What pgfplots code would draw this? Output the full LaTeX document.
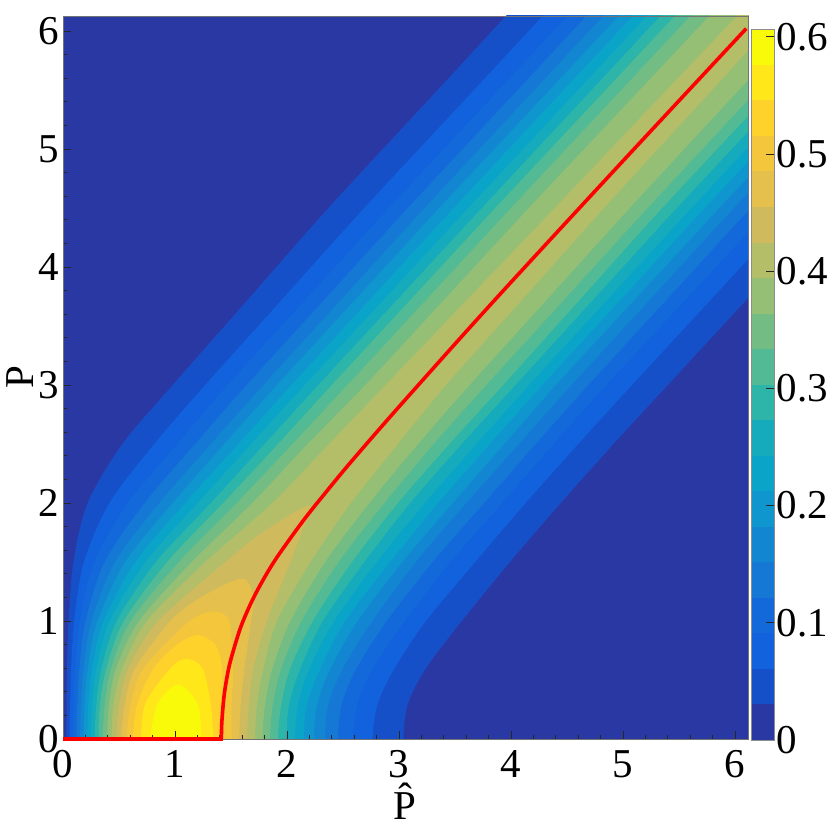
\documentclass[border=0pt]{standalone}
\usepackage{pgfplots}
\pgfplotsset{compat=1.18}
\usepackage{fontspec}
\setmainfont{Liberation Serif}
\definecolor{c0}{HTML}{2A38A4}
\definecolor{c1}{HTML}{1650C9}
\definecolor{c2}{HTML}{1162DC}
\definecolor{c3}{HTML}{1369D9}
\definecolor{c4}{HTML}{1578D5}
\definecolor{c5}{HTML}{1386D1}
\definecolor{c6}{HTML}{0F96CE}
\definecolor{c7}{HTML}{0AA4C8}
\definecolor{c8}{HTML}{15ABBD}
\definecolor{c9}{HTML}{2CB5A8}
\definecolor{c10}{HTML}{52BA95}
\definecolor{c11}{HTML}{73BC84}
\definecolor{c12}{HTML}{96BF76}
\definecolor{c13}{HTML}{B4BD68}
\definecolor{c14}{HTML}{CFBB5E}
\definecolor{c15}{HTML}{E5C04D}
\definecolor{c16}{HTML}{F4C63B}
\definecolor{c17}{HTML}{FED12B}
\definecolor{c18}{HTML}{FFE71A}
\definecolor{c19}{HTML}{F9FA0A}
\newcommand{\bigf}{\fontsize{41}{44}\selectfont}
\begin{document}
\begin{tikzpicture}[x=1pt,y=1pt]
\path[use as bounding box] (0,0) rectangle (830,827);
\begin{axis}[
  at={(63pt,88pt)},anchor=south west,
  scale only axis,width=685pt,height=723pt,
  xmin=0,xmax=6.116,ymin=0,ymax=6.127,
  axis background/.style={fill=c0},
  axis on top,
  xtick={0,1,2,3,4,5,6},ytick={0,1,2,3,4,5,6},
  minor x tick num=4,minor y tick num=4,
  xtick pos=bottom,ytick pos=left,
  tick align=inside,
  major tick length=8pt,minor tick length=4pt,
  tick style={black!85,line width=0.8pt},
  axis line style={black!55,line width=0.9pt},
  tick label style={font=\bigf,/pgf/number format/assume math mode=true},
  xticklabel style={yshift=-8pt},
  yticklabel style={xshift=0pt},
  xlabel={\^{P}},ylabel={P},
  label style={font=\bigf},
  xlabel style={at={(axis description cs:0.499,0)},anchor=north,yshift=-40pt},
  ylabel style={at={(axis description cs:0,0.5)},anchor=south,yshift=26pt},
]
% level 0.0303
\addplot[fill=c1,draw=none,smooth] coordinates {(.032,-.3)(.0304,0)(.032,.3)(.036,.6)(.05,1)(.093,1.5)(.22,2)(.53,2.5)(.98,3)(1.675,3.75)(2.37,4.5)(3.345,5.5)(4.32,6.5)(5.32,7.5)(9.84,7.5)(8.84,6.5)(7.85,5.5)(6.86,4.5)(6.13,3.75)(5.40,3)(4.914,2.5)(4.444,2)(3.99,1.5)(3.56,1)(3.24,.6)(3.08,.3)(3.04,0)(3.08,-.3)};
% level 0.0607
\addplot[fill=c2,draw=none,smooth] coordinates {(.064,-.3)(.061,0)(.064,.3)(.073,.6)(.10,1)(.187,1.5)(.415,2)(.815,2.5)(1.27,3)(1.98,3.75)(2.69,4.5)(3.67,5.5)(4.65,6.5)(5.65,7.5)(9.51,7.5)(8.51,6.5)(7.525,5.5)(6.54,4.5)(5.81,3.75)(5.08,3)(4.60,2.5)(4.13,2)(3.68,1.5)(3.24,1)(2.96,.6)(2.81,.3)(2.765,0)(2.81,-.3)};
% level 0.0910
\addplot[fill=c3,draw=none,smooth] coordinates {(.096,-.3)(.0915,0)(.096,.3)(.11,.6)(.151,1)(.28,1.5)(.58,2)(1.02,2.5)(1.47,3)(2.19,3.75)(2.91,4.5)(3.89,5.5)(4.87,6.5)(5.87,7.5)(9.29,7.5)(8.29,6.5)(7.305,5.5)(6.32,4.5)(5.585,3.75)(4.85,3)(4.38,2.5)(3.92,2)(3.46,1.5)(3.05,1)(2.77,.6)(2.63,.3)(2.59,0)(2.63,-.3)};
% level 0.1213
\addplot[fill=c4,draw=none,smooth] coordinates {(.128,-.3)(.1225,0)(.128,.3)(.147,.6)(.202,1)(.372,1.5)(.73,2)(1.18,2.5)(1.64,3)(2.36,3.75)(3.08,4.5)(4.06,5.5)(5.04,6.5)(6.04,7.5)(9.12,7.5)(8.12,6.5)(7.13,5.5)(6.14,4.5)(5.415,3.75)(4.69,3)(4.22,2.5)(3.76,2)(3.30,1.5)(2.89,1)(2.62,.6)(2.49,.3)(2.455,0)(2.49,-.3)};
% level 0.1516
\addplot[fill=c5,draw=none,smooth] coordinates {(.161,-.3)(.1535,0)(.161,.3)(.184,.6)(.255,1)(.465,1.5)(.86,2)(1.32,2.5)(1.79,3)(2.51,3.75)(3.23,4.5)(4.21,5.5)(5.19,6.5)(6.19,7.5)(8.97,7.5)(7.97,6.5)(6.98,5.5)(5.99,4.5)(5.265,3.75)(4.54,3)(4.07,2.5)(3.60,2)(3.15,1.5)(2.76,1)(2.50,.6)(2.37,.3)(2.34,0)(2.37,-.3)};
% level 0.1820
\addplot[fill=c6,draw=none,smooth] coordinates {(.194,-.3)(.185,0)(.194,.3)(.222,.6)(.308,1)(.555,1.5)(.98,2)(1.44,2.5)(1.91,3)(2.635,3.75)(3.36,4.5)(4.345,5.5)(5.33,6.5)(6.33,7.5)(8.83,7.5)(7.83,6.5)(6.845,5.5)(5.86,4.5)(5.13,3.75)(4.40,3)(3.94,2.5)(3.48,2)(3.03,1.5)(2.63,1)(2.39,.6)(2.27,.3)(2.24,0)(2.27,-.3)};
% level 0.2123
\addplot[fill=c7,draw=none,smooth] coordinates {(.227,-.3)(.217,0)(.227,.3)(.26,.6)(.363,1)(.645,1.5)(1.09,2)(1.565,2.5)(2.04,3)(2.765,3.75)(3.49,4.5)(4.47,5.5)(5.455,6.5)(6.455,7.5)(8.70,7.5)(7.70,6.5)(6.715,5.5)(5.73,4.5)(5.005,3.75)(4.28,3)(3.81,2.5)(3.35,2)(2.92,1.5)(2.52,1)(2.30,.6)(2.18,.3)(2.15,0)(2.18,-.3)};
% level 0.2426
\addplot[fill=c8,draw=none,smooth] coordinates {(.262,-.3)(.25,0)(.262,.3)(.30,.6)(.418,1)(.738,1.5)(1.205,2)(1.68,2.5)(2.16,3)(2.89,3.75)(3.62,4.5)(4.60,5.5)(5.58,6.5)(6.58,7.5)(8.57,7.5)(7.57,6.5)(6.59,5.5)(5.61,4.5)(4.885,3.75)(4.16,3)(3.69,2.5)(3.23,2)(2.80,1.5)(2.42,1)(2.20,.6)(2.10,.3)(2.07,0)(2.10,-.3)};
% level 0.2729
\addplot[fill=c9,draw=none,smooth] coordinates {(.298,-.3)(.283,0)(.298,.3)(.345,.6)(.48,1)(.83,1.5)(1.32,2)(1.80,2.5)(2.28,3)(3.01,3.75)(3.74,4.5)(4.72,5.5)(5.70,6.5)(6.70,7.5)(8.45,7.5)(7.45,6.5)(6.465,5.5)(5.48,4.5)(4.76,3.75)(4.04,3)(3.56,2.5)(3.10,2)(2.69,1.5)(2.32,1)(2.12,.6)(2.02,.3)(1.995,0)(2.02,-.3)};
% level 0.3033
\addplot[fill=c10,draw=none,smooth] coordinates {(.331,-.3)(.317,0)(.331,.3)(.387,.6)(.543,1)(.93,1.5)(1.43,2)(1.92,2.5)(2.40,3)(3.13,3.75)(3.86,4.5)(4.845,5.5)(5.83,6.5)(6.83,7.5)(8.32,7.5)(7.32,6.5)(6.335,5.5)(5.35,4.5)(4.64,3.75)(3.93,3)(3.45,2.5)(2.99,2)(2.58,1.5)(2.23,1)(2.03,.6)(1.95,.3)(1.92,0)(1.95,-.3)};
% level 0.3336
\addplot[fill=c11,draw=none,smooth] coordinates {(.374,-.3)(.355,0)(.374,.3)(.43,.6)(.605,1)(1.035,1.5)(1.55,2)(2.05,2.5)(2.54,3)(3.27,3.75)(4.0,4.5)(4.985,5.5)(5.97,6.5)(6.97,7.5)(8.18,7.5)(7.18,6.5)(6.2,5.5)(5.22,4.5)(4.50,3.75)(3.78,3)(3.31,2.5)(2.87,2)(2.46,1.5)(2.13,1)(1.95,.6)(1.875,.3)(1.85,0)(1.875,-.3)};
% level 0.3639
\addplot[fill=c12,draw=none,smooth] coordinates {(.412,-.3)(.395,0)(.412,.3)(.475,.6)(.68,1)(1.15,1.5)(1.69,2)(2.185,2.5)(2.70,3)(3.43,3.75)(4.16,4.5)(5.15,5.5)(6.14,6.5)(7.14,7.5)(8.01,7.5)(7.01,6.5)(6.035,5.5)(5.06,4.5)(4.345,3.75)(3.63,3)(3.17,2.5)(2.735,2)(2.34,1.5)(2.03,1)(1.87,.6)(1.805,.3)(1.783,0)(1.805,-.3)};
% level 0.3942
\addplot[fill=c13,draw=none,smooth] coordinates {(.452,-.3)(.433,0)(.452,.3)(.53,.6)(.75,1)(1.27,1.5)(1.87,2)(2.375,2.5)(2.88,3)(3.635,3.75)(4.39,4.5)(5.39,5.5)(6.39,6.5)(7.39,7.5)(7.76,7.5)(6.76,6.5)(5.795,5.5)(4.83,4.5)(4.125,3.75)(3.42,3)(2.99,2.5)(2.57,2)(2.21,1.5)(1.91,1)(1.79,.6)(1.733,.3)(1.715,0)(1.733,-.3)};
% level 0.4245
\addplot[fill=c14,draw=none,smooth] coordinates {(.503,-.3)(.475,0)(.503,.3)(.585,.6)(.85,1)(1.45,1.5)(1.78,1.75)(2.2,1.98)(2.13,1.75)(2.03,1.5)(1.82,1)(1.70,.6)(1.66,.3)(1.645,0)(1.66,-.3)};
% level 0.4549
\addplot[fill=c15,draw=none,smooth] coordinates {(.553,-.3)(.52,0)(.553,.3)(.645,.6)(.96,1)(1.23,1.2)(1.6,1.36)(1.70,1.2)(1.68,1)(1.62,.6)(1.587,.3)(1.575,0)(1.587,-.3)};
% level 0.4852
\addplot[fill=c16,draw=none,smooth] coordinates {(.605,-.3)(.57,0)(.605,.3)(.72,.6)(1.13,1)(1.35,1.08)(1.485,1)(1.52,.6)(1.506,.3)(1.505,0)(1.506,-.3)};
% level 0.5155
\addplot[fill=c17,draw=none,smooth] coordinates {(.665,-.3)(.625,0)(.665,.3)(.81,.6)(1.02,.8)(1.2,.88)(1.36,.8)(1.42,.6)(1.425,.3)(1.43,0)(1.425,-.3)};
% level 0.5458
\addplot[fill=c18,draw=none,smooth] coordinates {(.735,-.3)(.70,0)(.735,.3)(.96,.6)(1.1,.68)(1.245,.6)(1.318,.3)(1.34,0)(1.318,-.3)};
% level 0.5762
\addplot[fill=c19,draw=none,smooth] coordinates {(.845,-.3)(.785,0)(.845,.3)(1.03,.46)(1.20,.3)(1.235,0)(1.20,-.3)};
\end{axis}
% ridge line, not clipped at the frame
\begin{axis}[
  at={(63pt,88pt)},anchor=south west,
  scale only axis,width=685pt,height=723pt,
  xmin=0,xmax=6.116,ymin=0,ymax=6.127,
  hide axis,clip=false,
]
\addplot[red,line width=3.6pt,line join=round,smooth] coordinates {(1.414,0)(1.418,.141)(1.436,.348)(1.462,.513)(1.497,.668)(1.586,.946)(1.693,1.181)(1.808,1.383)(1.924,1.559)(2.152,1.859)(2.366,2.113)(2.564,2.34)(2.925,2.735)(3.54,3.39)(4.064,3.937)(5.05,4.95)(6.1,6.02)};
\addplot[red,line width=3.6pt] coordinates {(0,0)(1.43,0)};
\end{axis}
% colour bar
\begin{axis}[
  at={(751.5pt,87pt)},anchor=south west,
  scale only axis,width=22.5pt,height=710.7pt,
  xmin=0,xmax=1,ymin=0,ymax=0.6064,
  xtick=\empty,
  ytick={0,0.1,0.2,0.3,0.4,0.5,0.6},
  yticklabels={0,0.1,0.2,0.3,0.4,0.5,0.6},
  ytick pos=right,tick align=inside,
  major tick length=8pt,
  tick style={black!85,line width=0.8pt},
  axis on top,
  axis line style={black!45,line width=0.6pt},
  tick label style={font=\bigf,/pgf/number format/assume math mode=true},
  yticklabel style={anchor=west,xshift=-1pt},
]
\addplot[fill=c0,draw=none] coordinates {(0,0)(1,0)(1,.0304)(0,.0304)};
\addplot[fill=c1,draw=none] coordinates {(0,.0303)(1,.0303)(1,.0607)(0,.0607)};
\addplot[fill=c2,draw=none] coordinates {(0,.0606)(1,.0606)(1,.0910)(0,.0910)};
\addplot[fill=c3,draw=none] coordinates {(0,.0909)(1,.0909)(1,.1213)(0,.1213)};
\addplot[fill=c4,draw=none] coordinates {(0,.1212)(1,.1212)(1,.1516)(0,.1516)};
\addplot[fill=c5,draw=none] coordinates {(0,.1515)(1,.1515)(1,.1820)(0,.1820)};
\addplot[fill=c6,draw=none] coordinates {(0,.1819)(1,.1819)(1,.2123)(0,.2123)};
\addplot[fill=c7,draw=none] coordinates {(0,.2122)(1,.2122)(1,.2426)(0,.2426)};
\addplot[fill=c8,draw=none] coordinates {(0,.2425)(1,.2425)(1,.2729)(0,.2729)};
\addplot[fill=c9,draw=none] coordinates {(0,.2728)(1,.2728)(1,.3033)(0,.3033)};
\addplot[fill=c10,draw=none] coordinates {(0,.3032)(1,.3032)(1,.3336)(0,.3336)};
\addplot[fill=c11,draw=none] coordinates {(0,.3335)(1,.3335)(1,.3639)(0,.3639)};
\addplot[fill=c12,draw=none] coordinates {(0,.3638)(1,.3638)(1,.3942)(0,.3942)};
\addplot[fill=c13,draw=none] coordinates {(0,.3941)(1,.3941)(1,.4245)(0,.4245)};
\addplot[fill=c14,draw=none] coordinates {(0,.4244)(1,.4244)(1,.4549)(0,.4549)};
\addplot[fill=c15,draw=none] coordinates {(0,.4548)(1,.4548)(1,.4852)(0,.4852)};
\addplot[fill=c16,draw=none] coordinates {(0,.4851)(1,.4851)(1,.5155)(0,.5155)};
\addplot[fill=c17,draw=none] coordinates {(0,.5154)(1,.5154)(1,.5458)(0,.5458)};
\addplot[fill=c18,draw=none] coordinates {(0,.5457)(1,.5457)(1,.5762)(0,.5762)};
\addplot[fill=c19,draw=none] coordinates {(0,.5761)(1,.5761)(1,.6064)(0,.6064)};
\end{axis}
\end{tikzpicture}
\end{document}
